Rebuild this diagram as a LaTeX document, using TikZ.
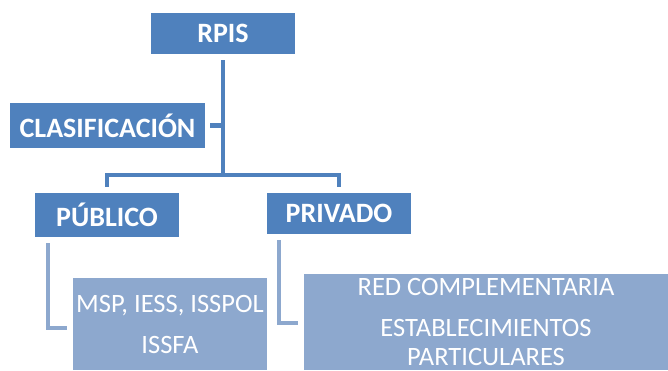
\documentclass[tikz,border=0pt]{standalone}
\usepackage{fontspec}
\setmainfont{Carlito}
\usepackage{tikz}
\usetikzlibrary{positioning}

\definecolor{darkblue}{RGB}{79,129,189}
\definecolor{lightblue}{RGB}{141,168,206}

\tikzset{
  headbox/.style={fill=darkblue, text=white, inner sep=0pt,
    font=\fontsize{28}{32}\selectfont\bfseries},
  itembox/.style={fill=lightblue, text=white, inner sep=0pt, align=center,
    font=\fontsize{26.5}{29}\selectfont},
  mainline/.style={draw=darkblue, line width=4.5pt},
  subline/.style={draw=lightblue, line width=4pt}
}

\begin{document}
\begin{tikzpicture}[x=1pt,y=-1pt]
  \useasboundingbox (0,0) rectangle (668,370);

  \node[headbox, minimum width=144pt, minimum height=41pt] (rpis) at (223,33.5) {RPIS};
  \node[headbox, minimum width=195pt, minimum height=45pt] (clas) at (107.5,125.5) {CLASIFICACIÓN};
  \node[headbox, minimum width=144pt, minimum height=44pt] (pub) at (107,215) {PÚBLICO};
  \node[headbox, minimum width=144pt, minimum height=41pt] (priv) at (339,213.5) {PRIVADO};

  \node[itembox, minimum width=194pt, minimum height=92pt] (pubitems) at (170,324)
    {MSP, IESS, ISSPOL\\[12pt]ISSFA};
  \node[itembox, minimum width=364pt, minimum height=96pt] (privitems) at (486,322)
    {RED COMPLEMENTARIA\\[12pt]ESTABLECIMIENTOS\\PARTICULARES};

  % tree connectors
  \coordinate (bar) at (223,175);
  \foreach \to in {pub, priv}
    \draw[mainline, shorten <=6pt, shorten >=6pt] (rpis.south) -- (bar) -| (\to.north);
  \draw[mainline, shorten <=5pt] (clas.east) -- (clas.east -| bar);

  % list connectors
  \draw[subline, shorten <=6pt, shorten >=6pt] ([xshift=13pt]pub.south west) |- ([yshift=-4pt]pubitems.west);
  \draw[subline, shorten <=6pt, shorten >=6pt] ([xshift=12pt]priv.south west) |- ([yshift=-1pt]privitems.west);
\end{tikzpicture}
\end{document}
